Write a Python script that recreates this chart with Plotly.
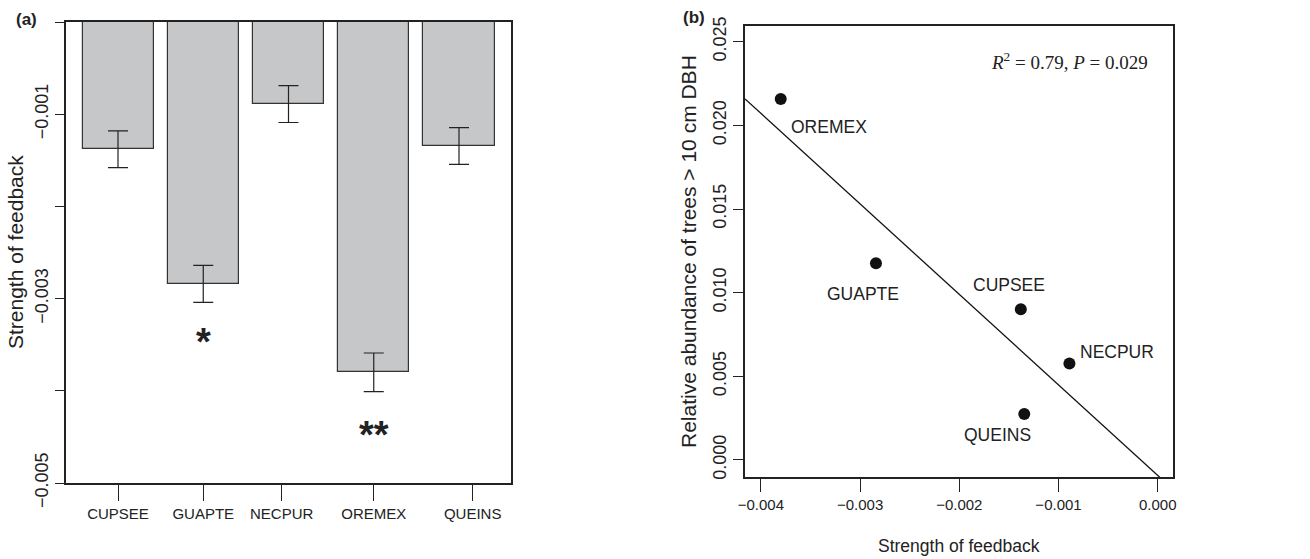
import numpy as np
import plotly.graph_objects as go

# ---- data ----
species = ["CUPSEE", "GUAPTE", "NECPUR", "OREMEX", "QUEINS"]
feedback = [-0.00138, -0.00284, -0.00089, -0.00380, -0.001345]
feedback_se = [0.00020, 0.00020, 0.00020, 0.00021, 0.00020]
abundance = [0.00901, 0.01176, 0.00576, 0.02158, 0.00275]
significance = ["", "*", "", "**", ""]

y1_ticks = [0, -0.001, -0.002, -0.003, -0.004, -0.005]
y1_ticktext = ["", "\u22120.001", "", "\u22120.003", "", "\u22120.005"]
x2_ticks = [-0.004, -0.003, -0.002, -0.001, 0.0]
x2_ticktext = ["\u22120.004", "\u22120.003", "\u22120.002", "\u22120.001", "0.000"]
y2_ticks = [0.0, 0.005, 0.010, 0.015, 0.020, 0.025]
y2_ticktext = ["0.000", "0.005", "0.010", "0.015", "0.020", "0.025"]
stats_text = "<i>R</i><sup>2</sup> = 0.79, <i>P</i> = 0.029"

# ---- styling / layout ----
SANS = "Liberation Sans, Arial, sans-serif"
SERIF = "Liberation Serif, Times New Roman, serif"
INK = "#222222"
W, H = 1310, 559

positions = list(range(1, len(species) + 1))
xtick_pos = [1, 2, 2.92, 4, 5.16]
x1_range = [0.39, 5.61]
x2_range = [-0.00416, 0.000154]
y2_range = [-0.00102, 0.02596]

fig = go.Figure()

fig.add_trace(go.Bar(
    x=positions, y=feedback, width=0.833,
    marker=dict(color="#c6c7c9", line=dict(color="#333333", width=1.2)),
    error_y=dict(type="data", array=feedback_se, visible=True,
                 thickness=1.2, width=10, color=INK),
    xaxis="x", yaxis="y", showlegend=False, hoverinfo="skip",
))

fig.add_trace(go.Scatter(
    x=feedback, y=abundance, mode="markers",
    marker=dict(size=12, color="#111111"),
    xaxis="x2", yaxis="y2", showlegend=False,
))

# least-squares regression line
b, a = np.polyfit(feedback, abundance, 1)
lx = np.array(x2_range)
fig.add_trace(go.Scatter(
    x=lx, y=a + b * lx, mode="lines",
    line=dict(color="#111111", width=1.3),
    xaxis="x2", yaxis="y2", showlegend=False, hoverinfo="skip",
))

annotations = []
# significance stars
star_shift = {"*": -17, "**": -20}
for p, f, se, s in zip(positions, feedback, feedback_se, significance):
    if s:
        annotations.append(dict(
            x=p, y=f - se, xref="x", yref="y", text="<b>" + s + "</b>", showarrow=False,
            font=dict(family=SANS, size=38, color=INK),
            yanchor="top", yshift=star_shift[s],
        ))

# point labels (pixel offsets from points)
label_offsets = {"CUPSEE": (-12, 24), "GUAPTE": (-13, -31), "NECPUR": (48, 12),
                 "OREMEX": (48, -28), "QUEINS": (-27, -21)}
for sp, f, ab in zip(species, feedback, abundance):
    dx, dy = label_offsets[sp]
    annotations.append(dict(
        x=f, y=ab, xref="x2", yref="y2", text=sp, showarrow=False,
        xshift=dx, yshift=dy, font=dict(family=SANS, size=17.5, color=INK),
    ))

def paper(px, py):
    return px / W, 1 - py / H

for txt, (px, py), kw in [
    ("<b>(a)</b>", (26, 19), dict(font=dict(family=SANS, size=17, color=INK))),
    ("<b>(b)</b>", (694, 18), dict(font=dict(family=SANS, size=17, color=INK))),
    ("Strength of feedback", (15, 252), dict(textangle=-90, font=dict(family=SANS, size=21, color=INK))),
    ("Relative abundance of trees &gt; 10 cm DBH", (689, 251), dict(textangle=-90, font=dict(family=SANS, size=21, color=INK))),
    ("Strength of feedback", (959, 546), dict(font=dict(family=SANS, size=17.5, color=INK))),
]:
    x, y = paper(px, py)
    annotations.append(dict(x=x, y=y, xref="paper", yref="paper", text=txt,
                            showarrow=False, xanchor="center", yanchor="middle", **kw))

x, y = paper(1150, 61)
annotations.append(dict(x=x, y=y, xref="paper", yref="paper", text=stats_text,
                        showarrow=False, xanchor="right", yanchor="middle",
                        font=dict(family=SERIF, size=19, color=INK)))

axis_common = dict(showline=True, mirror=True, linecolor=INK, linewidth=1.5,
                   ticks="outside", tickcolor=INK, tickwidth=1.2, automargin=False,
                   showgrid=False, zeroline=False, fixedrange=True)

fig.update_layout(
    template="none",
    width=W, height=H, autosize=False,
    margin=dict(l=0, r=0, t=0, b=0, autoexpand=False),
    paper_bgcolor="white", plot_bgcolor="white",
    font=dict(family=SANS, color=INK),
    bargap=0, showlegend=False,
    xaxis=dict(domain=[66 / W, 511 / W], range=x1_range, anchor="y",
               tickvals=xtick_pos, ticktext=species, ticklen=16,
               tickfont=dict(size=15, color=INK), **axis_common),
    yaxis=dict(domain=[1 - 483 / H, 1 - 22 / H], range=[-0.005, 0], anchor="x",
               tickvals=y1_ticks, ticktext=y1_ticktext, tickangle=-90, ticklen=9,
               tickfont=dict(size=18, color=INK), **axis_common),
    xaxis2=dict(domain=[745 / W, 1173 / W], range=x2_range, anchor="y2",
                tickvals=x2_ticks, ticktext=x2_ticktext, ticklen=13,
                tickfont=dict(size=15, color=INK), **axis_common),
    yaxis2=dict(domain=[1 - 477 / H, 1 - 25.7 / H], range=y2_range, anchor="x2",
                tickvals=y2_ticks, ticktext=y2_ticktext, tickangle=-90, ticklen=10,
                tickfont=dict(size=18, color=INK), **axis_common),
    annotations=annotations,
)

fig.write_html("out.html", config={"displayModeBar": False},
               post_script="document.body.style.margin='0';")
